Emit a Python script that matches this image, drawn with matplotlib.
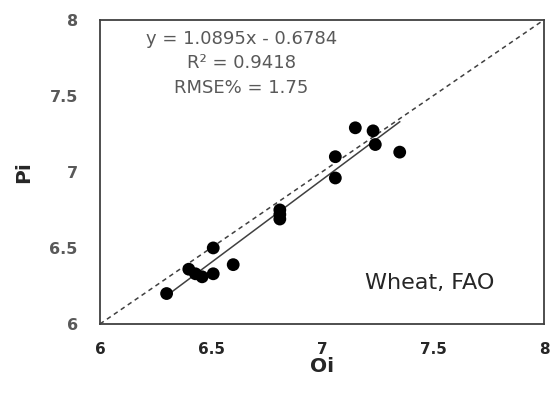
import numpy as np
import matplotlib.pyplot as plt

oi = [6.30, 6.40, 6.43, 6.46, 6.51, 6.51, 6.60, 6.81, 6.81, 6.81,
      7.06, 7.06, 7.15, 7.23, 7.24, 7.35]
pi = [6.20, 6.36, 6.33, 6.31, 6.33, 6.50, 6.39, 6.75, 6.72, 6.69,
      7.10, 6.96, 7.29, 7.27, 7.18, 7.13]

slope, intercept = 1.0895, -0.6784
eq_lines = ["y = 1.0895x - 0.6784", "R² = 0.9418", "RMSE% = 1.75"]
ticks = [6, 6.5, 7, 7.5, 8]
tick_labels = ['6', '6.5', '7', '7.5', '8']

plt.rcParams['font.family'] = ['DejaVu Sans']

fig = plt.figure(figsize=(5.54, 3.97), dpi=100)
ax = fig.add_axes([0.1805, 0.184, 0.8015, 0.766])

ax.plot([6, 8], [6, 8], color='#404040', ls=(0, (3, 2.5)), lw=1.1, zorder=1)
xf = np.array([min(oi), max(oi)])
ax.plot(xf, slope * xf + intercept, color='#404040', lw=1.1, zorder=2)
ax.scatter(oi, pi, s=85, color='black', zorder=3, edgecolors='none')

ax.set_xlim(6, 8)
ax.set_ylim(6, 8)
ax.set_xticks(ticks)
ax.set_xticklabels(tick_labels, fontsize=11, fontweight='bold', color='#262626')
ax.set_yticks(ticks)
ax.set_yticklabels(tick_labels, fontsize=11.5, fontweight='bold', color='#595959')
ax.tick_params(axis='x', length=0, pad=13)
ax.tick_params(axis='y', length=0, pad=16)
for s in ax.spines.values():
    s.set_color('#404040')
    s.set_linewidth(1.3)

ax.set_xlabel('Oi', fontsize=14.5, fontweight='bold', color='#262626', labelpad=0)
ax.set_ylabel('Pi', fontsize=14.5, fontweight='bold', color='#262626', labelpad=12)

for i, t in enumerate(eq_lines):
    ax.text(6.638, 7.875 - i * 0.161, t, fontsize=13, color='#595959', ha='center', va='center')

ax.text(7.483, 6.27, 'Wheat, FAO', fontsize=16, color='#262626', ha='center', va='center')

fig.savefig('out.png', dpi=100)
